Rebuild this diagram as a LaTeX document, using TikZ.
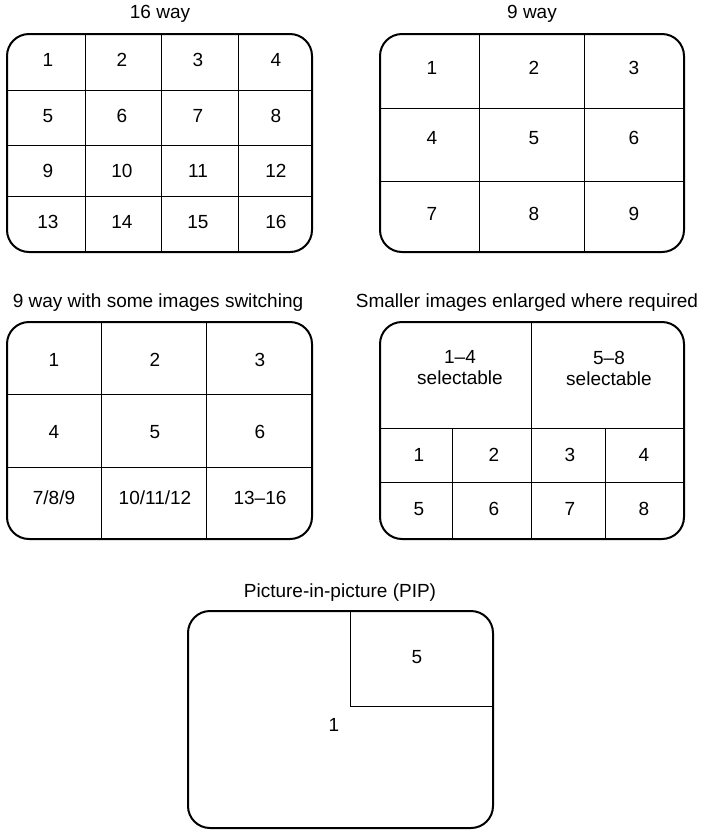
\documentclass[tikz,border=0pt]{standalone}
\usepackage{fontspec}
\setmainfont{Liberation Sans}
\begin{document}
\begin{tikzpicture}[x=1pt, y=-1pt,
    screen/.style={line width=2pt, rounded corners=22pt},
    divider/.style={line width=1pt},
    cell/.style={font=\fontsize{19}{21}\selectfont, inner sep=0pt, align=center},
    heading/.style={font=\fontsize{19}{21}\selectfont, inner sep=0pt, anchor=base}
]
\useasboundingbox (0,0) rectangle (704,831);

% 16 way
\node[heading] (t16) at (160,18) {16 way};
\draw[screen] (7,34) rectangle (312,252);
\foreach \x in {85,161,238} \draw[divider] (\x,34) -- (\x,252);
\foreach \y in {90,145,196} \draw[divider] (7,\y) -- (312,\y);
\foreach \r [count=\ri] in {60,116,171,222}
  \foreach \c [count=\ci] in {48,122,198,276} {
    \pgfmathtruncatemacro\n{(\ri-1)*4+\ci}
    \node[cell] (a\n) at (\c,\r) {\n};
  }

% 9 way
\node[heading] (t9) at (532,18) {9 way};
\draw[screen] (380,34) rectangle (684,252);
\foreach \x in {479,584} \draw[divider] (\x,34) -- (\x,252);
\foreach \y in {108,181} \draw[divider] (380,\y) -- (684,\y);
\foreach \r [count=\ri] in {68,138,214}
  \foreach \c [count=\ci] in {432,534,634} {
    \pgfmathtruncatemacro\n{(\ri-1)*3+\ci}
    \node[cell] (b\n) at (\c,\r) {\n};
  }

% 9 way with some images switching
\node[heading] (tsw) at (158,307) {9 way with some images switching};
\draw[screen] (7,322) rectangle (312,539);
\foreach \x in {101,206} \draw[divider] (\x,322) -- (\x,539);
\foreach \y in {394,467} \draw[divider] (7,\y) -- (312,\y);
\foreach \r [count=\ri] in {360,432}
  \foreach \c [count=\ci] in {54,155,260} {
    \pgfmathtruncatemacro\n{(\ri-1)*3+\ci}
    \node[cell] (s\n) at (\c,\r) {\n};
  }
\node[cell] (s7) at (54,498) {7/8/9};
\node[cell] (s8) at (155,498) {10/11/12};
\node[cell] (s9) at (260,498) {13--16};

% Smaller images enlarged where required
\node[heading] (ten) at (527,307) {Smaller images enlarged where required};
\draw[screen] (380,322) rectangle (684,539);
\draw[divider] (531,322) -- (531,539);
\foreach \y in {428,482} \draw[divider] (380,\y) -- (684,\y);
\foreach \x in {452,605} \draw[divider] (\x,428) -- (\x,539);
\node[cell] (e14) at (460,368) {1--4\\selectable};
\node[cell] (e58) at (609,368) {5--8\\selectable};
\foreach \r [count=\ri] in {455,509}
  \foreach \c [count=\ci] in {419,494,570,644} {
    \pgfmathtruncatemacro\n{(\ri-1)*4+\ci}
    \node[cell] (e\n) at (\c,\r) {\n};
  }

% Picture-in-picture (PIP)
\node[heading] (tpip) at (340,597) {Picture-in-picture (PIP)};
\draw[screen] (188,611) rectangle (493,828);
\draw[divider] (350,611) -- (350,706) -- (493,706);
\node[cell] (pmain) at (334,725) {1};
\node[cell] (pinset) at (417,657) {5};

\end{tikzpicture}
\end{document}
